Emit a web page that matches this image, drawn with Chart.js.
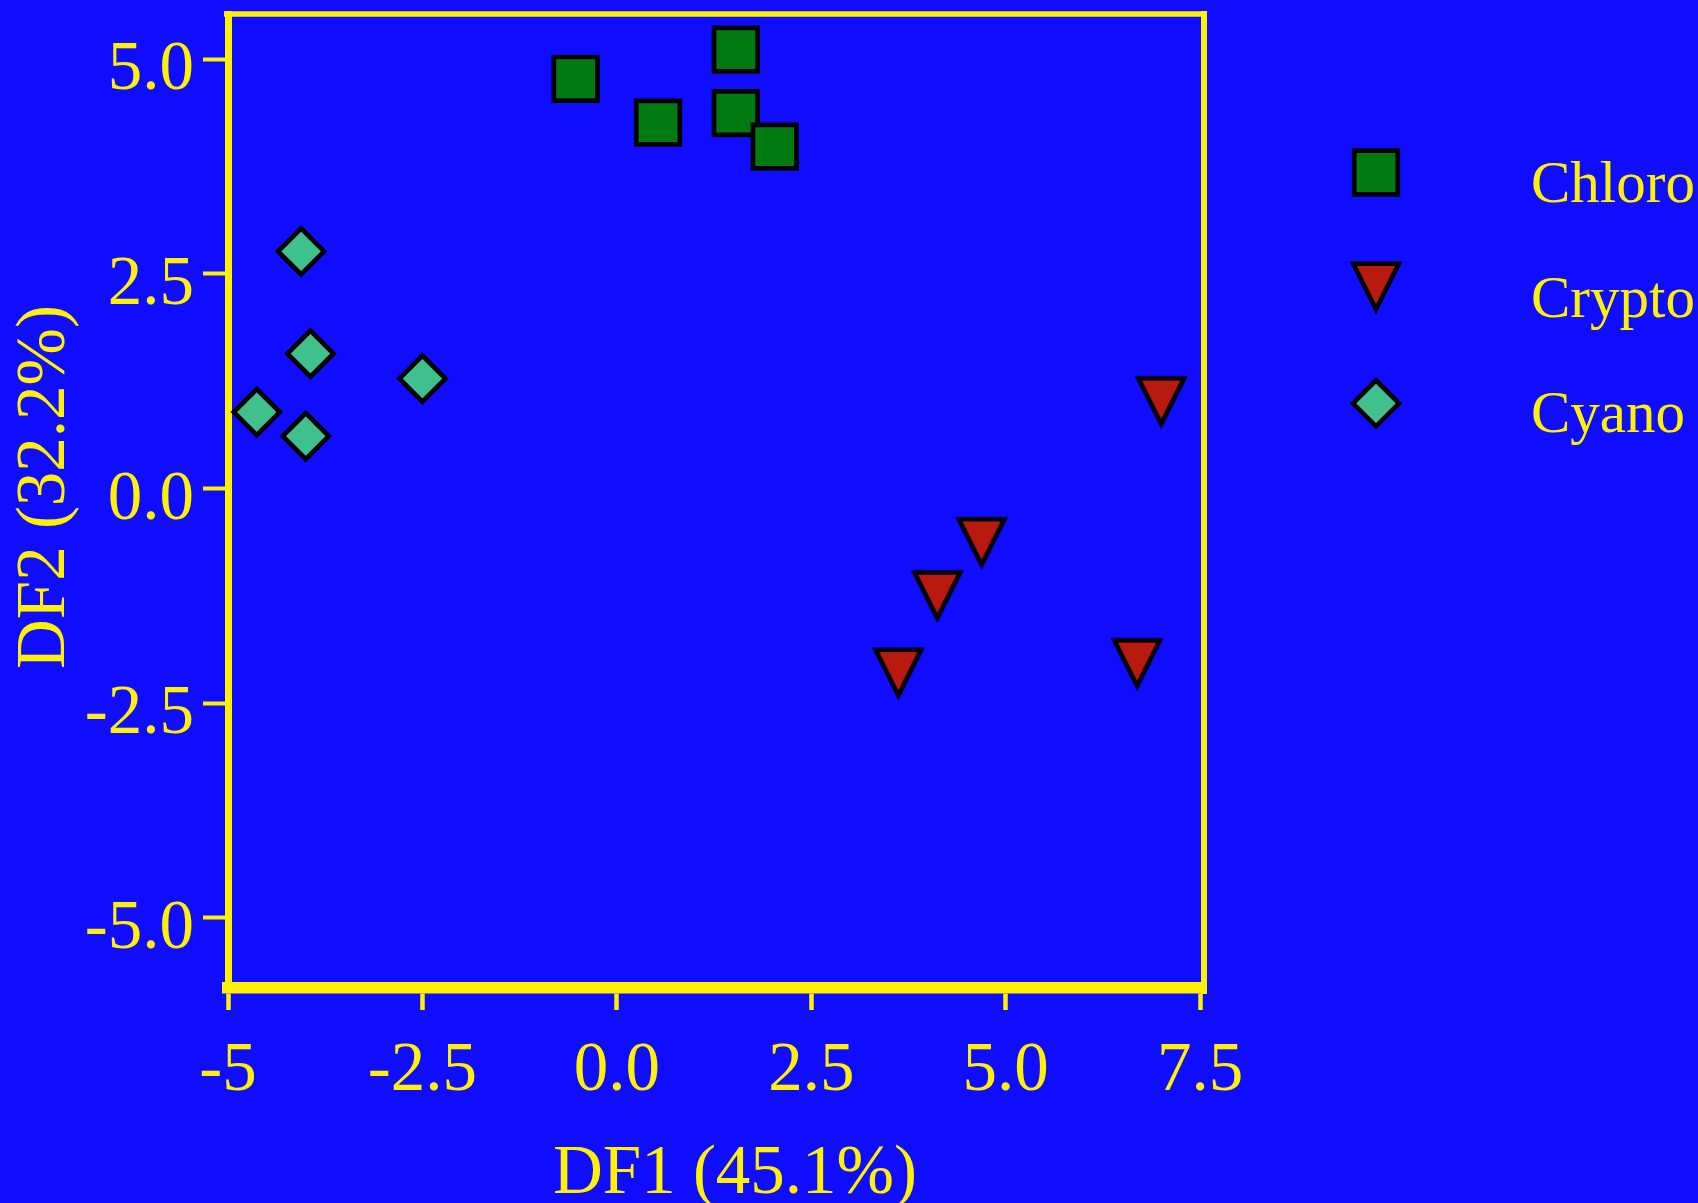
<!DOCTYPE html>
<html>
<head>
<meta charset="utf-8">
<title>DF1 vs DF2</title>
<script src="https://cdn.jsdelivr.net/npm/chart.js@4.4.1/dist/chart.umd.min.js"></script>
<style>
  html, body { margin: 0; padding: 0; background: #100cff; }
  #dfChart { display: block; }
</style>
</head>
<body>
<canvas id="dfChart" width="1698" height="1203"></canvas>
<script>
// ---------- discriminant scores per group ----------
const chloroX = [-0.53, 0.53, 1.53, 1.53, 2.03];
const chloroY = [4.77, 4.26, 5.11, 4.37, 3.98];

const cryptoX = [7.0, 4.69, 4.12, 3.62, 6.69];
const cryptoY = [1.0, -0.64, -1.26, -2.16, -2.05];

const cyanoX = [-4.06, -3.94, -2.5, -4.63, -4.0];
const cyanoY = [2.76, 1.57, 1.28, 0.89, 0.61];

const xTickValues = [-5, -2.5, 0, 2.5, 5, 7.5];
const xTickLabels = ["-5", "-2.5", "0.0", "2.5", "5.0", "7.5"];
const yTickValues = [-5, -2.5, 0, 2.5, 5];
const yTickLabels = ["-5.0", "-2.5", "0.0", "2.5", "5.0"];

const xTitle = "DF1 (45.1%)";
const yTitle = "DF2 (32.2%)";

const YELLOW = "#fff200";
const SERIF = "'Liberation Serif', 'Times New Roman', serif";

function toPoints(xs, ys) {
  return xs.map((x, i) => ({ x, y: ys[i] }));
}

// downward triangle marker, roughly as tall as it is wide
function makeTriangle(fill) {
  const size = 56;
  const c = document.createElement("canvas");
  c.width = size;
  c.height = size;
  const g = c.getContext("2d");
  g.beginPath();
  g.moveTo(5.2, 3.8);
  g.lineTo(size - 5.2, 3.8);
  g.lineTo(size / 2, 49.4);
  g.closePath();
  g.fillStyle = fill;
  g.fill();
  g.lineWidth = 4.6;
  g.strokeStyle = "#000";
  g.stroke();
  return c;
}

// top + right edges of the frame (left/bottom come from the axis borders)
const framePlugin = {
  id: "frame",
  beforeDatasetsDraw(chart) {
    const { ctx, chartArea: a } = chart;
    ctx.save();
    ctx.strokeStyle = YELLOW;
    ctx.lineWidth = 5.7;
    ctx.beginPath();
    ctx.moveTo(a.left - 4, a.top);
    ctx.lineTo(a.right + 3, a.top);
    ctx.stroke();
    ctx.lineWidth = 6;
    ctx.beginPath();
    ctx.moveTo(a.right, a.top - 3);
    ctx.lineTo(a.right, a.bottom + 6);
    ctx.stroke();
    ctx.restore();
  }
};

const axisTitlePlugin = {
  id: "axisTitles",
  afterDraw(chart) {
    const { ctx, chartArea: a } = chart;
    ctx.save();
    ctx.font = `69px ${SERIF}`;
    ctx.fillStyle = YELLOW;
    ctx.textAlign = "center";
    ctx.textBaseline = "alphabetic";
    ctx.fillText(xTitle, (a.left + a.right) / 2 + 19, a.bottom + 205);
    ctx.translate(a.left - 164, (a.top + a.bottom) / 2 - 14);
    ctx.rotate(-Math.PI / 2);
    ctx.fillText(yTitle, 0, 0);
    ctx.restore();
  }
};

const sideLegendPlugin = {
  id: "sideLegend",
  afterDraw(chart) {
    const { ctx, chartArea: a } = chart;
    const markerX = a.right + 172;
    const textX = a.right + 327;
    const firstY = a.top + 158.5;
    const rowGap = 115.4;
    ctx.save();
    ctx.font = `59px ${SERIF}`;
    ctx.textAlign = "left";
    ctx.textBaseline = "alphabetic";
    chart.data.datasets.forEach((ds, i) => {
      const y = firstY + i * rowGap;
      ctx.fillStyle = ds.pointBackgroundColor;
      ctx.strokeStyle = ds.pointBorderColor;
      ctx.lineWidth = ds.pointBorderWidth;
      Chart.helpers.drawPoint(ctx, {
        pointStyle: ds.pointStyle,
        radius: ds.pointRadius,
        borderWidth: ds.pointBorderWidth,
        rotation: 0
      }, markerX, y);
      ctx.fillStyle = YELLOW;
      ctx.fillText(ds.label, textX, y + 29);
    });
    ctx.restore();
  }
};

const datasets = [
  {
    label: "Chloro",
    data: toPoints(chloroX, chloroY),
    pointStyle: "rect",
    pointRadius: 30.8,
    pointBackgroundColor: "#007a11",
    pointBorderColor: "#000000",
    pointBorderWidth: 4.7
  },
  {
    label: "Crypto",
    data: toPoints(cryptoX, cryptoY),
    pointStyle: makeTriangle("#b91a10"),
    pointRadius: 27,
    pointBackgroundColor: "#b91a10",
    pointBorderColor: "#000000",
    pointBorderWidth: 4.6
  },
  {
    label: "Cyano",
    data: toPoints(cyanoX, cyanoY),
    pointStyle: "rectRot",
    pointRadius: 23,
    pointBackgroundColor: "#40c08c",
    pointBorderColor: "#000000",
    pointBorderWidth: 4.7
  }
];

new Chart(document.getElementById("dfChart"), {
  type: "scatter",
  data: { datasets },
  plugins: [framePlugin, axisTitlePlugin, sideLegendPlugin],
  options: {
    responsive: false,
    devicePixelRatio: 1,
    animation: false,
    events: [],
    layout: { autoPadding: false, padding: { top: 14, right: 494, left: 0, bottom: 0 } },
    plugins: { legend: { display: false }, tooltip: { enabled: false } },
    scales: {
      x: {
        type: "linear",
        min: -5,
        max: 7.55,
        afterBuildTicks: (s) => { s.ticks = xTickValues.map((v) => ({ value: v })); },
        afterFit: (s) => { s.height = 215; s.paddingLeft = 0; s.paddingRight = 0; },
        grid: { drawOnChartArea: false, tickLength: 22, tickWidth: 4.5, tickColor: YELLOW },
        border: { display: true, color: YELLOW, width: 11.5 },
        ticks: {
          color: YELLOW,
          font: { family: SERIF, size: 69 },
          padding: 20,
          maxRotation: 0,
          autoSkip: false,
          callback: (v, i) => xTickLabels[i]
        }
      },
      y: {
        type: "linear",
        min: -5.815,
        max: 5.524,
        afterBuildTicks: (s) => { s.ticks = yTickValues.map((v) => ({ value: v })); },
        afterFit: (s) => { s.width = 228; s.paddingTop = 0; s.paddingBottom = 0; },
        grid: { drawOnChartArea: false, tickLength: 25, tickWidth: 4, tickColor: YELLOW },
        border: { display: true, color: YELLOW, width: 7 },
        ticks: {
          color: YELLOW,
          font: { family: SERIF, size: 69 },
          padding: 9,
          labelOffset: 12,
          autoSkip: false,
          callback: (v, i) => yTickLabels[i]
        }
      }
    }
  }
});
</script>
</body>
</html>
